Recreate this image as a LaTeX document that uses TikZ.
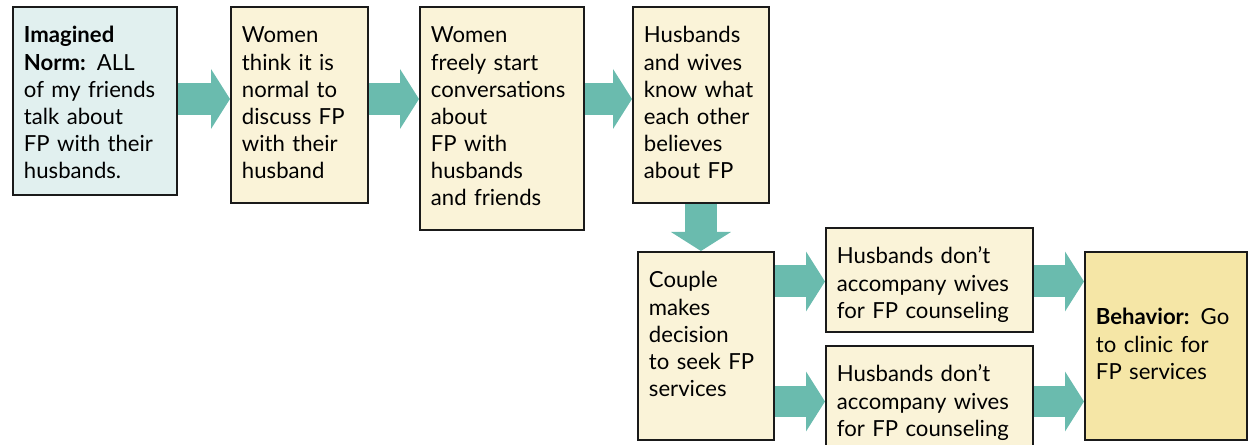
\documentclass[tikz,border=0pt]{standalone}
\usepackage{fontspec}
\setmainfont{Lato}
\usepackage{tikz}
\usetikzlibrary{arrows.meta,backgrounds}
\definecolor{FlowTeal}{HTML}{6ABBAE}
\definecolor{NormBlue}{HTML}{E1F0EF}
\definecolor{StepCream}{HTML}{FAF3D8}
\definecolor{GoalYellow}{HTML}{F5E6A6}
\definecolor{BoxLine}{HTML}{1A1A1A}

\tikzset{
  stepbox/.style={draw=BoxLine, line width=1.1pt, fill=StepCream, anchor=north west,
    inner xsep=0.22cm, inner ysep=0pt, align=left, text height=0.72cm,
    font=\fontsize{12.6}{15.4}\selectfont},
  flow/.style={FlowTeal, line width=0.64cm,
    -{Triangle[width=1.2cm,length=0.38cm,line width=0pt]}}
}

\begin{document}
\begin{tikzpicture}[x=0.02cm,y=-0.02cm]
      \useasboundingbox (0,0) rectangle (1248,445);
      % top row
      \node[stepbox,fill=NormBlue,text width=2.84cm,text depth=3.04cm] (norm) at (12,6)
        {\textbf{Imagined}\\\textbf{Norm:} ALL\\of my friends\\talk about\\FP with their\\husbands.};
      \node[stepbox,text width=2.30cm,text depth=3.20cm] (think) at (230,6)
        {Women\\think it is\\normal to\\discuss FP\\with their\\husband};
      \node[stepbox,text width=2.84cm,text depth=3.74cm] (talk) at (419,6)
        {Women\\freely start\\conversations\\about\\FP with\\husbands\\and friends};
      \node[stepbox,text width=2.28cm,text depth=3.20cm] (know) at (632,6)
        {Husbands\\and wives\\know what\\each other\\believes\\about FP};
      % bottom row
      \node[stepbox,text width=2.28cm,text depth=3.04cm] (decide) at (637,251)
        {Couple\\makes\\decision\\to seek FP\\services};
      \node[stepbox,text width=3.70cm,text depth=1.36cm] (alone1) at (825,227)
        {Husbands don’t\\accompany wives\\for FP counseling};
      \node[stepbox,text width=3.70cm,text depth=1.36cm] (alone2) at (825,345)
        {Husbands don’t\\accompany wives\\for FP counseling};
      \node[stepbox,fill=GoalYellow,text width=2.80cm,text height=1.46cm,text depth=2.30cm] (behave) at (1084,251)
        {\textbf{Behavior:} Go\\to clinic for\\FP services};
      \begin{pgfonlayer}{background}
      \draw[flow] (norm.east |- 0,99) -- (think.west |- 0,99);
      \draw[flow] (think.east |- 0,99) -- (talk.west |- 0,99);
      \draw[flow] (talk.east |- 0,99) -- (know.west |- 0,99);
      \draw[flow] (know.south) -- (know.south |- decide.north);
      \draw[flow] (decide.east |- 0,281.5) -- (alone1.west |- 0,281.5);
      \draw[flow] (decide.east |- 0,401.5) -- (alone2.west |- 0,401.5);
      \draw[flow] (alone1.east |- 0,281.5) -- (behave.west |- 0,281.5);
      \draw[flow] (alone2.east |- 0,401.5) -- (behave.west |- 0,401.5);
      \end{pgfonlayer}
    \end{tikzpicture}
\end{document}
